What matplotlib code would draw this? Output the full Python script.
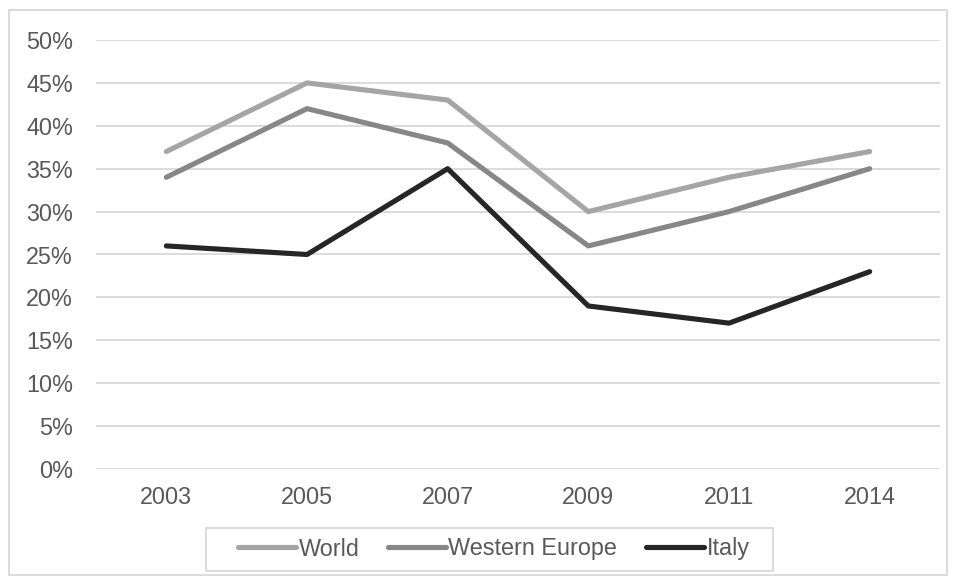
import matplotlib
matplotlib.use("Agg")
import matplotlib.pyplot as plt
from matplotlib.patches import Rectangle
from matplotlib.ticker import FuncFormatter, MultipleLocator

years = ["2003", "2005", "2007", "2009", "2011", "2014"]
world = [0.37, 0.45, 0.43, 0.30, 0.34, 0.37]
western_europe = [0.34, 0.42, 0.38, 0.26, 0.30, 0.35]
italy = [0.26, 0.25, 0.35, 0.19, 0.17, 0.23]

plt.rcParams['font.family'] = ['Liberation Sans', 'DejaVu Sans']
FS = 16.8

fig = plt.figure(figsize=(9.57, 5.81), dpi=100)
ax = fig.add_axes([96/957, 1-469/581, (940-96)/957, (469-40)/581])

x = list(range(len(years)))
lw = 3.7
ax.plot(x, world, color="#a5a5a5", lw=lw, solid_capstyle="round", solid_joinstyle="round", label="World", zorder=3)
ax.plot(x, western_europe, color="#878787", lw=lw, solid_capstyle="round", solid_joinstyle="round", label="Western Europe", zorder=3)
ax.plot(x, italy, color="#262626", lw=lw, solid_capstyle="round", solid_joinstyle="round", label="Italy", zorder=3)

ax.set_xlim(-0.5, len(years) - 0.5)
ax.set_ylim(0, 0.5)
ax.set_xticks(x)
ax.set_xticklabels(years)
ax.yaxis.set_major_locator(MultipleLocator(0.05))
ax.yaxis.set_major_formatter(FuncFormatter(lambda v, p: f"{round(v*100)}%"))
ax.grid(axis="y", color="#d9d9d9", lw=1.3, zorder=0)
ax.set_axisbelow(True)
for s in ax.spines.values():
    s.set_visible(False)
ax.tick_params(axis="both", length=0, labelsize=FS, colors="#595959")
ax.tick_params(axis="y", pad=16.5)
ax.tick_params(axis="x", pad=12)

leg = fig.legend(loc="center", bbox_to_anchor=(494/957, 1-549/581), ncol=3, frameon=False,
                 fontsize=FS, handlelength=2.45, handletextpad=0.12, columnspacing=1.25,
                 borderpad=0.0, borderaxespad=0)
for t in leg.get_texts():
    t.set_color("#595959")

# legend frame (Excel style, wider left padding)
fig.patches.append(Rectangle((206/957, 1-571/581), (773-206)/957, (571-528)/581, transform=fig.transFigure,
                             fill=False, edgecolor="#d9d9d9", lw=1.3))
# outer chart border
fig.patches.append(Rectangle((9/957, 1-575/581), (947-9)/957, (575-10)/581, transform=fig.transFigure,
                             fill=False, edgecolor="#d9d9d9", lw=1.3))

fig.savefig("out.png", dpi=100)
